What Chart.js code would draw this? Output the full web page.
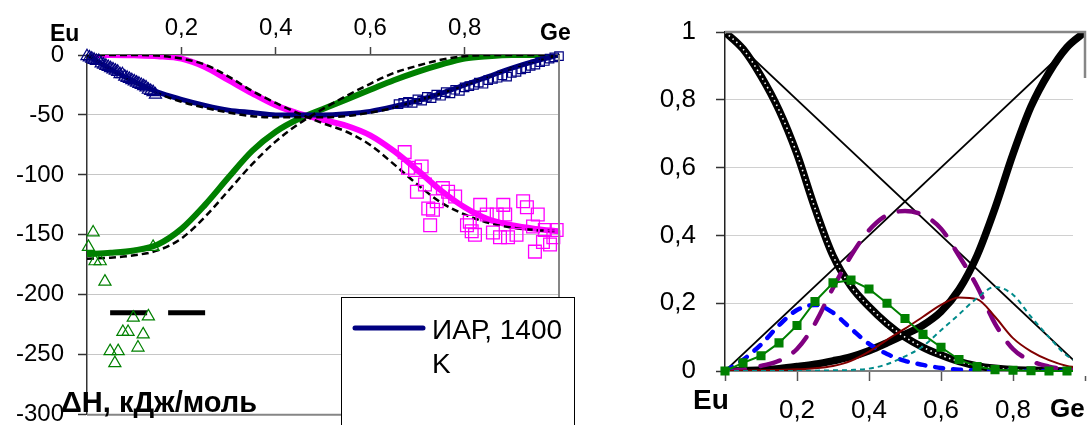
<!DOCTYPE html>
<html lang="ru">
<head>
<meta charset="UTF-8">
<title>Eu–Ge: энтальпия смешения и активности</title>
<script src="https://cdn.jsdelivr.net/npm/chart.js"></script>
<style>
  body { margin: 0; background: #fff; }
  #wrap { position: relative; width: 1092px; height: 425px; }
  #left { position: absolute; left: 0; top: 0; }
  #right { position: absolute; left: 600px; top: 0; }
</style>
</head>
<body>
<div id="wrap">
  <canvas id="left" width="600" height="425"></canvas>
  <canvas id="right" width="492" height="425"></canvas>
</div>
<script>
// ---- общая сетка составов ----
const xs = [0, 0.05, 0.1, 0.15, 0.2, 0.25, 0.3, 0.35, 0.4, 0.45, 0.5, 0.55, 0.6, 0.65, 0.7, 0.75, 0.8, 0.85, 0.9, 0.95, 1];

// ---- левый график: ΔH, кДж/моль ----
const pinkLine  = [0, 0, -0.3, -1, -3, -10, -21, -32, -42, -49, -54, -59, -67, -80, -96, -113, -127, -137, -142, -145, -147];
const pinkFit   = [0, 0, 0, -0.5, -3, -8, -18, -30, -40, -49, -57, -64, -75, -91, -108, -123, -133, -140, -144, -146, -147];
const navyLine  = [0, -12, -22, -31, -37, -42, -46, -48, -50, -50, -50, -49, -47, -43, -38, -32, -25, -18, -11, -5, 0];
const navyFit   = [0, -12, -23, -32, -39, -44, -48, -51, -52, -52, -52, -51, -48, -44, -38, -32, -25, -18, -11, -5, 0];
const greenLine = [-166, -165, -163, -158, -145, -125, -102, -80, -64, -53, -45, -37, -29, -21, -14, -8, -3, -1, 0, 0, 0];
const greenFit  = [-170, -169, -167, -163, -153, -135, -113, -91, -72, -57, -45, -34, -24, -15, -9, -4, -1, 0, 0, 0, 0];

const navyTriX = [0, 0.005, 0.01, 0.015, 0.02, 0.025, 0.03, 0.035, 0.04, 0.045, 0.05, 0.055, 0.06, 0.065, 0.07, 0.075, 0.08, 0.085, 0.09, 0.095, 0.1, 0.105, 0.11, 0.115, 0.12, 0.125, 0.13, 0.135, 0.14, 0.145];
const navyTriY = [-1, -2, -3, -4, -5, -5, -7, -8, -9, -10, -11, -12, -13, -14, -16, -16, -18, -19, -20, -21, -22, -23, -24, -25, -26, -27, -29, -30, -31, -33];

const navySqX = [0.66, 0.67, 0.68, 0.69, 0.70, 0.71, 0.72, 0.73, 0.74, 0.75, 0.76, 0.77, 0.78, 0.79, 0.80, 0.81, 0.82, 0.83, 0.84, 0.85, 0.86, 0.87, 0.88, 0.89, 0.90, 0.91, 0.92, 0.93, 0.94, 0.95, 0.96, 0.97, 0.98, 0.99, 1.00];
const navySqY = [-41, -40, -39, -40, -37, -38, -35, -36, -33, -34, -31, -32, -29, -30, -27, -26, -25, -23, -24, -21, -20, -19, -17, -18, -15, -14, -12, -11, -9, -8, -6, -5, -3, -2, -1];

const pinkSqX = [0.673, 0.68, 0.695, 0.709, 0.716, 0.699, 0.723, 0.733, 0.727, 0.741, 0.754, 0.765, 0.78, 0.805, 0.811, 0.815, 0.822, 0.833, 0.847, 0.86, 0.868, 0.875, 0.882, 0.886, 0.892, 0.91, 0.924, 0.932, 0.945, 0.949, 0.955, 0.966, 0.97, 0.981, 0.988, 0.995];
const pinkSqY = [-81, -94, -96, -93, -108, -114, -128, -129, -142, -122, -111, -114, -118, -142, -139, -147, -150, -125, -133, -148, -133, -152, -125, -133, -152, -150, -122, -127, -143, -164, -133, -156, -146, -158, -152, -146];

const greenTriX = [0.003, 0.013, 0.017, 0.028, 0.038, 0.14, 0.098, 0.13, 0.076, 0.087, 0.119, 0.108, 0.049, 0.066, 0.059];
const greenTriY = [-160, -148, -172, -172, -189, -160, -219, -218, -231, -231, -233, -244, -247, -247, -257];

const blackBarX = [0.049, 0.254];
const blackBarY = [-215, -215];

const leftXTicks = ['0,2', '0,4', '0,6', '0,8'];

// ---- правый график: активности ----
const diagX = [0, 1];
const diagDown = [1, 0];
const diagUp = [0, 1];
const euAct   = [1, 0.95, 0.87, 0.77, 0.64, 0.48, 0.34, 0.25, 0.19, 0.14, 0.1, 0.07, 0.047, 0.028, 0.015, 0.008, 0.004, 0.002, 0.001, 0, 0];
const geAct   = [0, 0.001, 0.003, 0.007, 0.013, 0.02, 0.03, 0.042, 0.06, 0.083, 0.108, 0.135, 0.175, 0.24, 0.34, 0.48, 0.64, 0.78, 0.88, 0.955, 1];
const purple  = [0, 0.004, 0.015, 0.03, 0.065, 0.14, 0.245, 0.34, 0.415, 0.46, 0.472, 0.46, 0.42, 0.34, 0.25, 0.14, 0.065, 0.03, 0.013, 0.004, 0];
const blue    = [0, 0.033, 0.078, 0.135, 0.18, 0.195, 0.172, 0.125, 0.08, 0.05, 0.03, 0.018, 0.009, 0.004, 0.002, 0.001, 0, 0, 0, 0, 0];
const greenSq = [0, 0.024, 0.045, 0.083, 0.134, 0.205, 0.26, 0.268, 0.242, 0.2, 0.155, 0.108, 0.07, 0.034, 0.013, 0.004, 0.002, 0.001, 0, 0, 0];
const maroon  = [0, 0.001, 0.002, 0.003, 0.005, 0.008, 0.015, 0.03, 0.057, 0.092, 0.125, 0.16, 0.195, 0.217, 0.212, 0.16, 0.097, 0.058, 0.032, 0.015, 0.008];
const teal    = [0, 0, 0, 0, 0, 0.001, 0.002, 0.003, 0.007, 0.02, 0.043, 0.073, 0.12, 0.167, 0.215, 0.248, 0.225, 0.16, 0.1, 0.045, 0.02];

Chart.defaults.font.family = "'Liberation Sans', Arial, sans-serif";
Chart.defaults.color = '#000';

const fmt = v => String(Math.round(v * 10) / 10).replace('.', ',');
const pts = (x, y) => x.map((v, i) => ({ x: v, y: y[i] }));

function curve(x, y, color, width, dash, cap) {
    return {
        data: pts(x, y), showLine: true, borderColor: color, borderWidth: width,
        borderDash: dash || [], borderCapStyle: cap || 'butt', pointRadius: 0,
        cubicInterpolationMode: 'monotone', fill: false
    };
}
function marks(x, y, color, style, r, w) {
    return {
        data: pts(x, y), showLine: false, pointStyle: style, pointRadius: r,
        pointBorderColor: color, pointBackgroundColor: 'rgba(0,0,0,0)', pointBorderWidth: w, clip: false
    };
}
function fixSize(prop, val) {
    return function (s) {
        s[prop] = val;
        s.paddingLeft = 0; s.paddingRight = 0; s.paddingTop = 0; s.paddingBottom = 0;
    };
}

// рамка, подписи и легенда левого графика
const leftExtras = {
    id: 'leftExtras',
    afterDraw(chart) {
        const c = chart.ctx, a = chart.chartArea;
        c.save();
        c.strokeStyle = '#868686'; c.lineWidth = 2;
        c.beginPath(); c.moveTo(a.right, a.top); c.lineTo(a.right, a.bottom); c.lineTo(a.left, a.bottom); c.stroke();

        c.fillStyle = '#fff'; c.fillRect(341, 297, 233, 140);
        c.strokeStyle = '#000'; c.lineWidth = 1; c.strokeRect(341.5, 297.5, 233, 140);
        c.strokeStyle = '#000080'; c.lineWidth = 5; c.lineCap = 'round';
        c.beginPath(); c.moveTo(355, 328); c.lineTo(423, 328); c.stroke();
        c.fillStyle = '#000'; c.font = "28px 'Liberation Sans', Arial, sans-serif";
        c.textBaseline = 'alphabetic'; c.textAlign = 'left';
        c.fillText('ИАР, 1400', 432, 339);
        c.fillText('K', 432, 373);

        c.font = "bold 23px 'Liberation Sans', Arial, sans-serif";
        c.fillText('Eu', 50, 41);
        c.fillText('Ge', 540, 40);
        c.font = "bold 29px 'Liberation Sans', Arial, sans-serif";
        c.fillText('ΔH, кДж/моль', 61, 412);
        c.restore();
    }
};

new Chart(document.getElementById('left'), {
    type: 'scatter',
    data: {
        datasets: [
            marks(navySqX, navySqY, '#000080', 'rect', 6, 1.2),
            marks(pinkSqX, pinkSqY, '#ff00ff', 'rect', 9, 1.3),
            marks(navyTriX, navyTriY, '#000080', 'triangle', 7, 1.2),
            marks(greenTriX, greenTriY, '#008000', 'triangle', 7, 1.2),
            curve(xs, pinkFit, '#000', 2.5, [7, 4]),
            curve(xs, navyFit, '#000', 2.5, [7, 4]),
            curve(xs, greenFit, '#000', 2.5, [7, 4]),
            curve(xs, navyLine, '#000080', 5),
            curve(xs, pinkLine, '#ff00ff', 6),
            curve(xs, greenLine, '#008000', 6),
            { data: pts(blackBarX, blackBarY), showLine: true, borderColor: '#000', borderWidth: 5,
              borderDash: [37, 21], pointRadius: 0 }
        ]
    },
    options: {
        responsive: false, animation: false,
        layout: { padding: { left: 0, top: 0, right: 41, bottom: 10 } },
        plugins: { legend: { display: false }, tooltip: { enabled: false } },
        scales: {
            x: {
                type: 'linear', position: 'top', min: 0, max: 1,
                afterFit: fixSize('height', 55),
                afterBuildTicks: s => { s.ticks = [0.2, 0.4, 0.6, 0.8].map(v => ({ value: v })); },
                ticks: { callback: (v, i) => leftXTicks[i], font: { size: 24 }, padding: 4, maxRotation: 0 },
                grid: { drawOnChartArea: false, tickLength: 8, tickColor: '#444', tickWidth: 1.5 },
                border: { display: true, color: '#555', width: 1.5 }
            },
            y: {
                min: -300, max: 0,
                afterFit: fixSize('width', 87),
                ticks: { stepSize: 50, font: { size: 24 }, padding: 14 },
                grid: { color: '#c6c6c6', tickColor: '#333', tickLength: 9, tickWidth: 1.5 },
                border: { display: true, color: '#333', width: 1.5 }
            }
        }
    },
    plugins: [leftExtras]
});

// рамка и подписи правого графика
const rightExtras = {
    id: 'rightExtras',
    afterDraw(chart) {
        const c = chart.ctx, a = chart.chartArea;
        c.save();
        c.strokeStyle = '#868686'; c.lineWidth = 2.5;
        c.beginPath(); c.moveTo(a.left, a.top); c.lineTo(a.right, a.top); c.lineTo(a.right, 78); c.stroke();
        c.fillStyle = '#fff';
        c.fillRect(473, 78, 19, 298);
        c.fillRect(60, 378, 60, 10);
        c.fillStyle = '#000';
        c.textBaseline = 'alphabetic'; c.textAlign = 'left';
        c.font = "bold 28px 'Liberation Sans', Arial, sans-serif";
        c.fillText('Eu', 93, 409);
        c.font = "bold 26px 'Liberation Sans', Arial, sans-serif";
        c.fillText('Ge', 450, 417);
        c.restore();
    }
};

new Chart(document.getElementById('right'), {
    type: 'scatter',
    data: {
        datasets: [
            { data: pts(xs, greenSq), showLine: true, borderColor: '#008000', borderWidth: 2,
              pointStyle: 'rect', pointRadius: 5, pointBackgroundColor: '#008000', pointBorderColor: '#008000', clip: false },
            curve(xs, teal, '#008b8b', 2, [5, 4]),
            curve(xs, maroon, '#800000', 2),
            curve(xs, blue, '#0000ff', 4.5, [8, 10], 'round'),
            curve(xs, purple, '#800080', 4.5, [20, 16], 'round'),
            curve(xs, euAct, '#fff', 1.6, [1.5, 3.5]),
            curve(xs, euAct, '#000', 7.5),
            curve(xs, geAct, '#000', 7.5),
            curve(diagX, diagDown, '#000', 1.8),
            curve(diagX, diagUp, '#000', 1.8)
        ]
    },
    options: {
        responsive: false, animation: false,
        layout: { padding: { left: 0, top: 32, right: 6, bottom: 0 } },
        plugins: { legend: { display: false }, tooltip: { enabled: false } },
        scales: {
            x: {
                type: 'linear', position: 'bottom', min: 0, max: 1,
                afterFit: fixSize('height', 54),
                ticks: { stepSize: 0.2, callback: v => (v < 0.01 || v > 0.99) ? '' : fmt(v), font: { size: 26 }, padding: 14, maxRotation: 0 },
                grid: { drawOnChartArea: false, tickLength: 10, tickColor: '#555', tickWidth: 1.5 },
                border: { display: true, color: '#808080', width: 2 }
            },
            y: {
                min: 0, max: 1,
                afterFit: fixSize('width', 125),
                ticks: { stepSize: 0.2, callback: v => fmt(v), font: { size: 26 }, padding: 20 },
                grid: { color: '#d0d0d0', tickColor: '#333', tickLength: 9, tickWidth: 1.5 },
                border: { display: true, color: '#222', width: 1.5 }
            }
        }
    },
    plugins: [rightExtras]
});
</script>
</body>
</html>
